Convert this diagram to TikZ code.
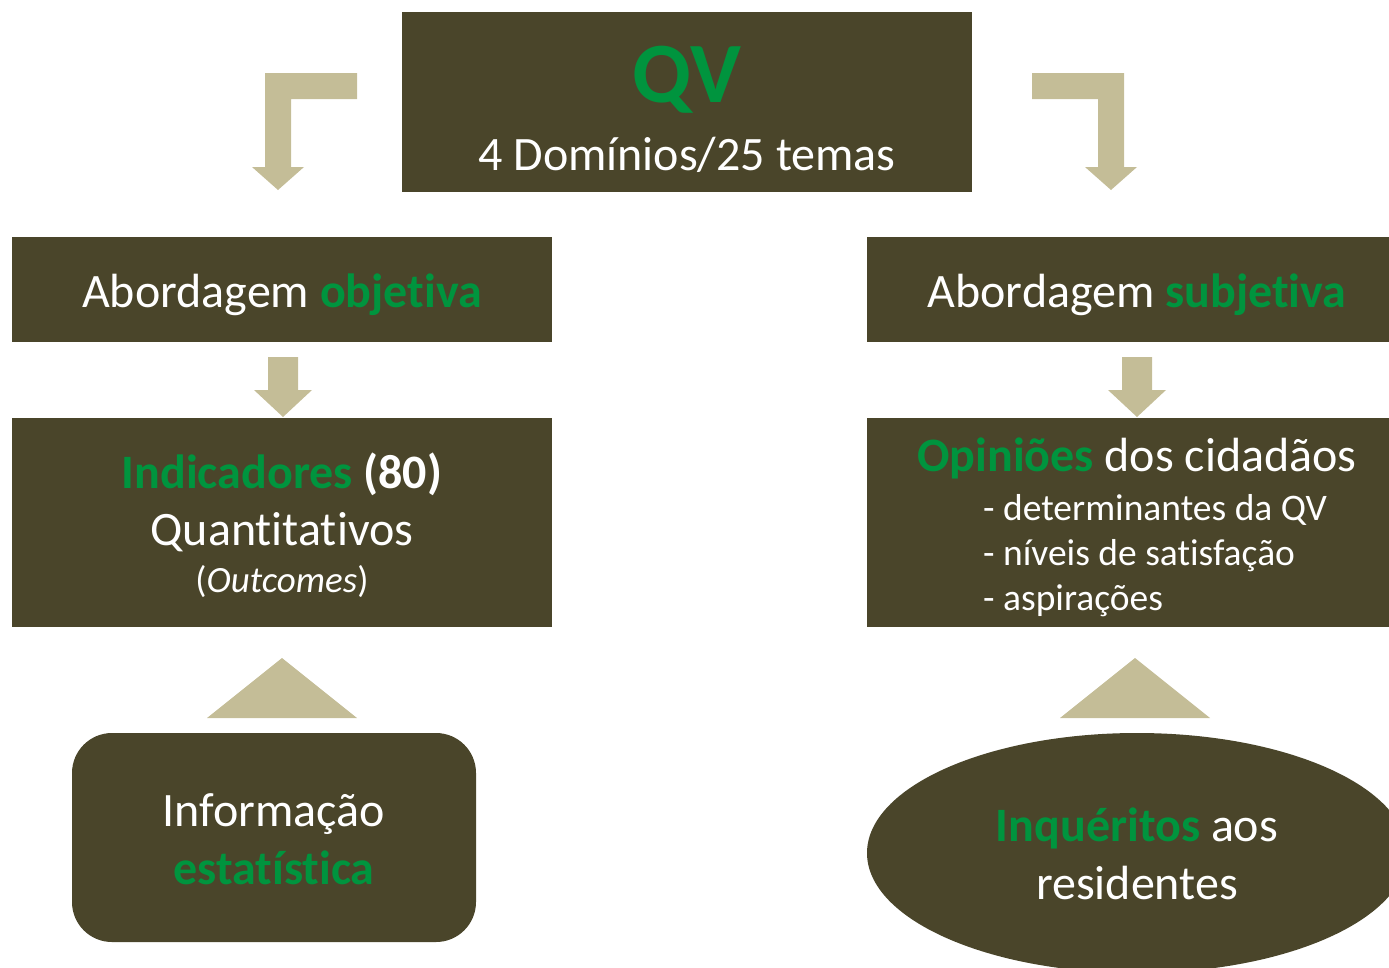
\documentclass[tikz,border=0pt]{standalone}
\usepackage{fontspec}
\setmainfont[Ligatures=NoCommon]{Carlito}
\definecolor{boxdark}{HTML}{4A452A}
\definecolor{qvgreen}{HTML}{00943E}
\definecolor{tan}{HTML}{C4BD97}
\begin{document}
\begin{tikzpicture}[x=1pt,y=-1pt,
  box/.style={draw=none,fill=boxdark,inner sep=0pt,anchor=center},
  txt/.style={text=white,inner sep=0pt,anchor=base,font=\fontsize{48}{58}\selectfont},
  small/.style={text=white,inner sep=0pt,anchor=base west,font=\fontsize{37.5}{45}\selectfont},
  tanshape/.style={fill=tan,draw=none}]
\useasboundingbox (0,0) rectangle (1389,967);
% boxes
\node[box,minimum width=570,minimum height=180] (qv) at (687,102) {};
\node[box,minimum width=540,minimum height=105] (obj) at (282,289.5) {};
\node[box,minimum width=540,minimum height=105] (subj) at (1137,289.5) {};
\node[box,minimum width=540,minimum height=209] (ind) at (282,522.5) {};
\node[box,minimum width=540,minimum height=209] (opi) at (1137,522.5) {};
\node[box,rounded corners=40,minimum width=404,minimum height=209] (info) at (274,837.5) {};
\fill[boxdark] (1137,853) ellipse[x radius=270,y radius=120];
\coordinate (inq) at (1137,853);
% arrows
\fill[tanshape] (357,73) -- (265,73) -- (265,167) -- (252,167) -- (278,190) -- (304,167) -- (291,167) -- (291,99) -- (357,99) -- cycle;
\fill[tanshape] (1032,73) -- (1124,73) -- (1124,167) -- (1137,167) -- (1111,190) -- (1085,167) -- (1098,167) -- (1098,99) -- (1032,99) -- cycle;
\fill[tanshape] (268,357) -- (298,357) -- (298,390) -- (312,390) -- (283,417) -- (254,390) -- (268,390) -- cycle;
\fill[tanshape] (1122,357) -- (1152,357) -- (1152,390) -- (1166,390) -- (1137,417) -- (1108,390) -- (1122,390) -- cycle;
\fill[tanshape] (282,658) -- (357,718) -- (207,718) -- cycle;
\fill[tanshape] (1135,658) -- (1210,718) -- (1060,718) -- cycle;
% texts
\node[txt,text=qvgreen,font=\fontsize{86}{100}\selectfont\bfseries] (tqv) at (687,102) {QV};
\node[txt] (tqv2) at (687,170) {4 Domínios/25 temas};
\node[txt] (tobj) at (282,307) {Abordagem \textcolor{qvgreen}{\bfseries objetiva}};
\node[txt] (tsubj) at (1137,307) {Abordagem \textcolor{qvgreen}{\bfseries subjetiva}};
\node[txt] (tind) at (282,488) {\textcolor{qvgreen}{\bfseries Indicadores} \bfseries(80)};
\node[txt] (tquant) at (282,545) {Quantitativos};
\node[txt,font=\fontsize{37}{44}\selectfont] (tout) at (282,592) {(\textit{Outcomes})};
\node[txt] (topi) at (1137,471) {\textcolor{qvgreen}{\bfseries Opiniões} dos cidadãos};
\node[small] (l1) at (983,520) {- determinantes da QV};
\node[small] (l2) at (983,565) {- níveis de satisfação};
\node[small] (l3) at (983,610) {- aspirações};
\node[txt] (tinfo1) at (274,826) {Informação};
\node[txt,text=qvgreen,font=\fontsize{48}{58}\selectfont\bfseries] (tinfo2) at (274,884) {estatística};
\node[txt] (tinq1) at (1137,841) {\textcolor{qvgreen}{\bfseries Inquéritos} aos};
\node[txt] (tinq2) at (1137,899) {residentes};
\end{tikzpicture}
\end{document}
